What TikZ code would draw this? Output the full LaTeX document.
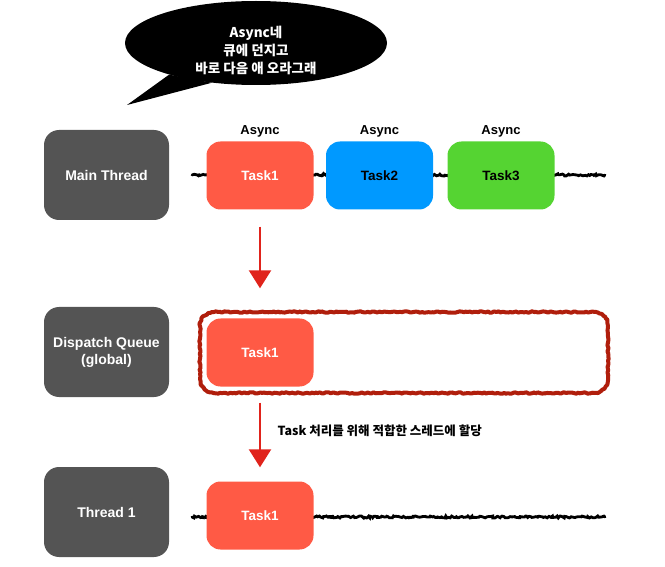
\documentclass[tikz,border=0pt]{standalone}
\usepackage{fontspec}
\setmainfont{Liberation Sans}
\newfontfamily\cjk{Noto Sans CJK KR}
\usetikzlibrary{shapes.geometric,decorations.pathmorphing,arrows.meta}
\definecolor{threadgray}{HTML}{545454}
\definecolor{taskred}{HTML}{FF5A45}
\definecolor{taskblue}{HTML}{0099FF}
\definecolor{taskgreen}{HTML}{55D432}
\definecolor{queuered}{HTML}{B01E0C}
\definecolor{arrowred}{HTML}{E0231B}

\begin{document}
\begin{tikzpicture}[x=1pt, y=-1pt,
    thread/.style={fill=threadgray, rounded corners=15pt, minimum width=125pt, minimum height=90pt,
        text=white, align=center, font=\bfseries\fontsize{14}{17}\selectfont},
    task/.style={fill=#1, rounded corners=14pt, minimum width=107pt, minimum height=68pt,
        font=\bfseries\fontsize{13.5}{16}\selectfont},
    async/.style={font=\bfseries\fontsize{13}{15}\selectfont},
    rough/.style={decorate, decoration={random steps, segment length=1.5pt, amplitude=1pt},
        line width=2.8pt, line cap=round},
    queuebox/.style={draw=queuered, line width=4pt, line join=round, decorate,
        decoration={random steps, segment length=2pt, amplitude=0.7pt}},
    redarrow/.style={draw=arrowred, line width=2.3pt, -{Triangle[width=22pt, length=18pt]}}]

    \useasboundingbox (0,0) rectangle (665,567);

    % Speech bubble
    \node[ellipse, fill=black, minimum width=262pt, minimum height=84pt, inner sep=0pt] (bubble) at (256,43) {};
    \coordinate (bubbletip) at (127,105);
    \fill (bubble.200) -- (bubbletip) -- (bubble.222) -- cycle;
    \node[text=white, align=center, font=\cjk\bfseries\fontsize{13.5}{18}\selectfont] (bubbletxt) at (256,50)
        {Async네\\큐에 던지고\\바로 다음 애 오라그래};

    % Threads
    \node[thread] (main) at (106.5,175) {Main Thread};
    \node[thread] (queue) at (106.5,352) {Dispatch Queue\\(global)};
    \node[thread] (thread1) at (106.5,512) {Thread 1};

    % Main thread timeline
    \coordinate (mainstart) at (192,175);
    \coordinate (mainend) at (605,175);
    \draw[rough] (mainstart) -- (mainend);
    \node[task=taskred, text=white] (t1) at (260,175.5) {Task1};
    \node[task=taskblue] (t2) at (379.5,175.5) {Task2};
    \node[task=taskgreen] (t3) at (501,175.5) {Task3};
    \node[async] (async1) at (260,131) {Async};
    \node[async] (async2) at (379.5,131) {Async};
    \node[async] (async3) at (501,131) {Async};

    % Global queue
    \draw[queuebox] {[rounded corners=14pt] (200,312) rectangle (608,393)};
    \node[task=taskred, text=white] (q1) at (260,352.5) {Task1};

    % Thread 1 timeline
    \coordinate (threadstart) at (192,517);
    \coordinate (threadend) at (605,517);
    \draw[rough] (threadstart) -- (threadend);
    \node[task=taskred, text=white] (th1) at (260,515.5) {Task1};

    % Arrows
    \draw[redarrow, shorten <=17pt, shorten >=30pt] (t1) -- (q1);
    \draw[redarrow, shorten <=16pt, shorten >=14pt] (q1) -- (th1);
    \node[anchor=west, font=\cjk\bfseries\fontsize{12.5}{15}\selectfont] (assign) at (274,431)
        {Task 처리를 위해 적합한 스레드에 할당};
\end{tikzpicture}
\end{document}
